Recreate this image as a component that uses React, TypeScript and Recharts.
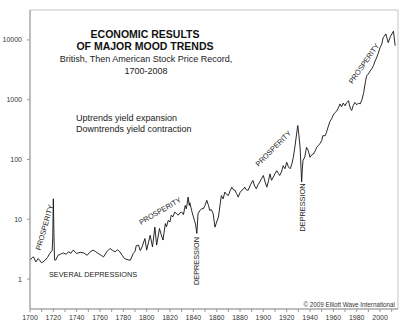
import React from "react";
import { LineChart, Line, XAxis, YAxis, ReferenceArea } from "recharts";

const years = [
  1700, 1702, 1703, 1705, 1707, 1708, 1710, 1712, 1713, 1715, 1717, 1719, 1719.5, 1720, 1720.5, 1721, 1722, 1724, 1726, 1728.5,
  1731, 1733, 1735, 1737, 1740, 1743, 1746, 1749, 1751, 1754, 1756, 1758.5, 1761, 1763, 1766, 1768.5, 1771, 1773, 1775, 1777,
  1779, 1781, 1784, 1786, 1788.5, 1790, 1791, 1793, 1794.5, 1796, 1798.5, 1800, 1803, 1805, 1807, 1808.5, 1811, 1812.5, 1814, 1816,
  1817, 1818.5, 1820, 1821, 1822.5, 1824, 1825.5, 1827, 1828.5, 1830, 1831.5, 1833, 1834, 1835.5, 1836.5, 1837, 1838.5, 1840, 1841, 1842,
  1843, 1844, 1845.7, 1847, 1848.5, 1850, 1851.5, 1853, 1854, 1855.5, 1857, 1858.5, 1860, 1861.5, 1863, 1864, 1865.5, 1867, 1868.5, 1870,
  1871.5, 1873, 1874.5, 1875.7, 1877, 1878.5, 1880, 1881.5, 1883, 1884, 1885.5, 1887, 1889, 1891, 1892.5, 1894, 1895.5, 1897, 1898.5, 1900,
  1901.5, 1903, 1904.5, 1905.7, 1907, 1908.5, 1910, 1911.5, 1913, 1914, 1915.5, 1917, 1918.5, 1920, 1921.5, 1923, 1924.5, 1925.7, 1927, 1928.5,
  1929.5, 1930.5, 1931.5, 1932.3, 1932.8, 1933.5, 1934, 1935.5, 1937, 1938.5, 1940, 1941.5, 1943, 1944.5, 1945.7, 1947, 1948.5, 1950, 1951, 1953,
  1954, 1955.5, 1957, 1958.5, 1960, 1961.5, 1963, 1964.5, 1965.7, 1967, 1968.5, 1970, 1971.5, 1973, 1974.5, 1975.7, 1977, 1978.5, 1980, 1981.5,
  1983, 1984.5, 1986, 1987.5, 1988.5, 1990, 1991.4, 1993, 1994.3, 1995.5, 1997, 1998.5, 2000, 2001.5, 2002.6, 2005, 2007, 2009, 2011.5, 2013,
];

const prices = [
  2.07, 2.3, 2.35, 1.94, 2.2, 2.1, 1.87, 2.0, 2.07, 2.3, 2.7, 3.0, 5, 22, 6, 2.1, 2.07, 2.5, 2.6, 2.74,
  2.6, 2.86, 2.7, 3.05, 2.68, 2.8, 2.74, 2.5, 2.8, 3.05, 2.9, 2.68, 2.5, 2.35, 2.9, 3.25, 3.0, 2.86, 3.1, 2.86,
  2.5, 2.2, 2.1, 2.07, 2.68, 2.9, 3.6, 3.7, 3.0, 3.45, 4.76, 3.05, 5.4, 3.45, 7.4, 3.7, 7.0, 5.5, 4.5, 8.5,
  7.5, 9.6, 9, 11.7, 11, 13.2, 12.5, 11.7, 12.8, 13.2, 12, 17, 15, 23.5, 17, 19, 14.1, 11, 9.6, 8,
  5.8, 12.4, 14.1, 15, 15, 17, 20.8, 17, 14.1, 14.5, 12.4, 7.4, 9, 10.9, 18, 25, 22, 28.5, 26, 25,
  30, 34.5, 31, 30.6, 27, 23.5, 28, 30.6, 32, 34.5, 31, 30.6, 38, 44.7, 36, 32.5, 38, 42, 48, 54,
  42, 34.5, 45, 57.5, 45, 50.6, 58, 65, 58, 54, 62, 79, 70, 90, 75, 70, 85, 109, 160, 268,
  370, 250, 160, 70, 42, 75, 96, 110, 160, 141, 109, 120, 124, 140, 160, 170, 185, 207, 250, 250,
  281, 350, 430, 480, 560, 613, 650, 750, 850, 760, 880, 790, 900, 960, 720, 660, 800, 900, 820, 880,
  850, 1000, 1320, 2000, 2500, 2700, 3000, 3300, 3700, 4300, 5000, 6000, 7400, 8500, 10800, 12600, 9000, 11500, 14000, 8000,
];

const xTicks = [
  1700, 1710, 1720, 1730, 1740, 1750, 1760, 1770, 1780, 1790, 1800, 1810, 1820, 1830, 1840, 1850,
  1860, 1870, 1880, 1890, 1900, 1910, 1920, 1930, 1940, 1950, 1960, 1970, 1980, 1990, 2000, 2010,
];
const yTicks = [1, 10, 100, 1000, 10000];

const titleLines = ["ECONOMIC RESULTS", "OF MAJOR MOOD TRENDS"];
const subtitleLines = ["British, Then American Stock Price Record,", "1700-2008"];
const noteLines = ["Uptrends yield expansion", "Downtrends yield contraction"];

const data = years.map((y, i) => ({ year: y, price: prices[i] }));

const FONT = "'Liberation Sans', Arial, Helvetica, sans-serif";
const W = 400;
const H = 332;

export default function App() {
  return (
    <div style={{ position: "absolute", left: 0, top: 0, width: W, height: H, background: "#fff" }}>
      <LineChart
        width={W}
        height={H}
        data={data}
        margin={{ top: 10, right: 2, left: 0, bottom: 0 }}
        style={{ fontFamily: FONT }}
      >
        <XAxis
          dataKey="year"
          type="number"
          domain={[1700, 2015.4]}
          ticks={xTicks}
          interval={0}
          tickFormatter={(v: number) => (v % 20 === 0 ? String(v) : "")}
          height={23}
          tickSize={3}
          tickMargin={3}
          stroke="#9a9a9a"
          tick={{ fontSize: 7, fill: "#333", fontFamily: FONT }}
          allowDataOverflow
        />
        <YAxis
          dataKey="price"
          scale="log"
          domain={[0.3162, 31623]}
          ticks={yTicks}
          allowDataOverflow
          width={30}
          tickSize={3}
          tickMargin={5}
          stroke="#9a9a9a"
          tick={{ fontSize: 7, fill: "#333", fontFamily: FONT }}
          tickFormatter={(v: number) => String(v)}
        />
        <ReferenceArea
          x1={1700}
          x2={2015.4}
          y1={0.3162}
          y2={31623}
          fill="none"
          stroke="#c4c4c4"
          strokeWidth={1}
          ifOverflow="visible"
        />
        <Line
          type="linear"
          dataKey="price"
          stroke="#111"
          strokeWidth={0.9}
          dot={false}
          isAnimationActive={false}
        />
      </LineChart>
      <svg
        width={W}
        height={H}
        style={{ position: "absolute", left: 0, top: 0, pointerEvents: "none" }}
        fontFamily={FONT}
      >
        <text x={145} y={38} textAnchor="middle" fontSize={10.5} fontWeight="bold" fill="#111">{titleLines[0]}</text>
        <text x={145} y={50} textAnchor="middle" fontSize={10.5} fontWeight="bold" fill="#111">{titleLines[1]}</text>
        <text x={146} y={61.5} textAnchor="middle" fontSize={9} fill="#222">{subtitleLines[0]}</text>
        <text x={146} y={73.5} textAnchor="middle" fontSize={9} fill="#222">{subtitleLines[1]}</text>
        <text x={76} y={120.5} fontSize={9} fill="#222">{noteLines[0]}</text>
        <text x={76} y={131.5} fontSize={9} fill="#222">{noteLines[1]}</text>
        <text x={93} y={276.5} textAnchor="middle" fontSize={7.3} fill="#222">SEVERAL DEPRESSIONS</text>
        <text x={0} y={0} textAnchor="middle" dominantBaseline="central" fontSize={7.3} fill="#222" transform="translate(44.5,227.5) rotate(-74)">PROSPERITY</text>
        <text x={0} y={0} textAnchor="middle" dominantBaseline="central" fontSize={7.3} fill="#222" transform="translate(160,211) rotate(-30)">PROSPERITY</text>
        <text x={0} y={0} textAnchor="middle" dominantBaseline="central" fontSize={7.3} fill="#222" transform="translate(196,261) rotate(-90)">DEPRESSION</text>
        <text x={0} y={0} textAnchor="middle" dominantBaseline="central" fontSize={7.3} fill="#222" transform="translate(273.3,148.5) rotate(-45)">PROSPERITY</text>
        <text x={0} y={0} textAnchor="middle" dominantBaseline="central" fontSize={7.3} fill="#222" transform="translate(302,207.5) rotate(-90)">DEPRESSION</text>
        <text x={0} y={0} textAnchor="middle" dominantBaseline="central" fontSize={7.3} fill="#222" transform="translate(364,63.5) rotate(-55)">PROSPERITY</text>
        <text x={395} y={306.5} textAnchor="end" fontSize={6.3} fill="#333">© 2009 Elliott Wave International</text>
      </svg>
    </div>
  );
}
